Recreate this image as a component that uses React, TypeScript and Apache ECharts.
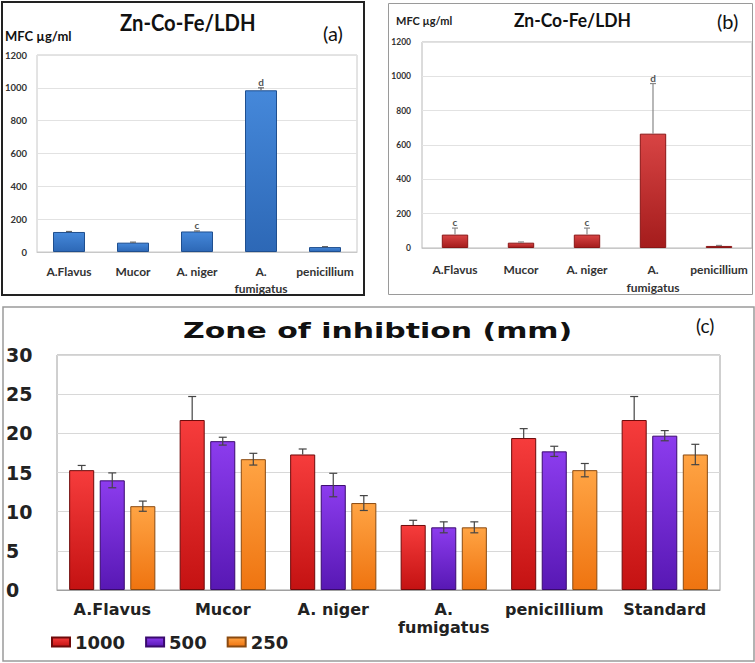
import React, { useEffect, useRef } from 'react';
import * as echarts from 'echarts';

// ---------- data ----------
const catsMFC = ['A.Flavus', 'Mucor', 'A. niger', 'A.\nfumigatus', 'penicillium'];
const mfcA = [122, 57, 125, 985, 30];
const errA = [3, 3, 3, 15, 3];
const sigA = ['', '', 'c', 'd', ''];
const mfcB = [78, 31, 78, 666, 12];
const errB = [38, 4, 38, 292, 3];
const sigB = ['c', '', 'c', 'd', ''];
const mfcTicks = { min: 0, max: 1200, interval: 200 };

const catsZone = ['A.Flavus', 'Mucor', 'A. niger', 'A.\nfumigatus', 'penicillium', 'Standard'];
const zoneNames = ['1000', '500', '250'];
const zone1000 = [15.3, 21.7, 17.3, 8.3, 19.4, 21.7];
const err1000 = [0.6, 3.0, 0.7, 0.6, 1.2, 3.0];
const zone500 = [14.0, 19.0, 13.4, 8.0, 17.7, 19.7];
const err500 = [0.95, 0.5, 1.5, 0.7, 0.65, 0.65];
const zone250 = [10.7, 16.7, 11.1, 8.0, 15.3, 17.3];
const err250 = [0.65, 0.75, 0.95, 0.7, 0.85, 1.3];
const zoneTicks = { min: 0, max: 30, interval: 5 };

// ---------- helpers ----------
const vgrad = (top: string, bottom: string) =>
  new echarts.graphic.LinearGradient(0, 0, 0, 1, [
    { offset: 0, color: top },
    { offset: 1, color: bottom },
  ]);

function barOffset(band: number, n: number, k: number, catGap: number, gap: number) {
  const usable = band * (1 - catGap);
  const bw = usable / (n + (n - 1) * gap);
  const step = bw * (1 + gap);
  return (k - (n - 1) / 2) * step;
}

function errSeries(
  axis: number,
  vals: number[],
  errs: number[],
  opts: { n: number; k: number; catGap: number; gap: number; both: boolean; sig?: string[]; color: string; cap: number; sigFont?: string }
) {
  return {
    type: 'custom',
    xAxisIndex: axis,
    yAxisIndex: axis,
    z: 5,
    silent: true,
    data: vals.map((v, i) => [i, v, errs[i]]),
    renderItem: (params: any, api: any) => {
      const i = api.value(0);
      const v = api.value(1);
      const e = api.value(2);
      const band = api.size([1, 0])[0];
      const off = barOffset(band, opts.n, opts.k, opts.catGap, opts.gap);
      const p0 = api.coord([i, v]);
      const pt = api.coord([i, v + e]);
      const pb = api.coord([i, v - e]);
      const x = p0[0] + off;
      const yTop = pt[1];
      const yBot = opts.both ? pb[1] : p0[1];
      const st = { stroke: opts.color, lineWidth: 1.2 };
      const children: any[] = [
        { type: 'line', shape: { x1: x, y1: yBot, x2: x, y2: yTop }, style: st },
        { type: 'line', shape: { x1: x - opts.cap, y1: yTop, x2: x + opts.cap, y2: yTop }, style: st },
      ];
      if (opts.both) {
        children.push({ type: 'line', shape: { x1: x - opts.cap, y1: yBot, x2: x + opts.cap, y2: yBot }, style: st });
      }
      if (opts.sig && opts.sig[i]) {
        children.push({
          type: 'text',
          style: {
            text: opts.sig[i],
            x,
            y: yTop - 1,
            textAlign: 'center',
            textVerticalAlign: 'bottom',
            fill: '#555',
            font: opts.sigFont || 'bold 10px Lato',
          },
        });
      }
      return { type: 'group', children };
    },
  };
}

const fontA = 'Lato';
const fontC = 'DejaVu Sans';
const plain = (v: number) => String(v);

export default function App() {
  const ref = useRef<HTMLDivElement>(null);
  useEffect(() => {
    const chart = echarts.init(ref.current!, null, { renderer: 'svg' });

    const colorsC = [
      { fill: vgrad('#f63c3c', '#c41212'), border: '#6e0a0a' },
      { fill: vgrad('#8c3cee', '#5818b4'), border: '#3a0a6e' },
      { fill: vgrad('#ffa444', '#ef7410'), border: '#8a4a10' },
    ];
    const zoneVals = [zone1000, zone500, zone250];
    const zoneErrs = [err1000, err500, err250];

    const option: any = {
      animation: false,
      backgroundColor: '#fff',
      grid: [
        { left: 37, top: 55, width: 320, height: 197, show: true, borderColor: '#c8c8c8', borderWidth: 1, backgroundColor: 'transparent' },
        { left: 422, top: 42, width: 330, height: 206, show: true, borderColor: '#b8b8b8', borderWidth: 1, backgroundColor: 'transparent' },
        { left: 57, top: 355, width: 663, height: 235, show: true, borderColor: '#a0a0a0', borderWidth: 1, backgroundColor: 'transparent' },
      ],
      xAxis: [
        {
          type: 'category', gridIndex: 0, data: catsMFC,
          axisLine: { lineStyle: { color: '#c8c8c8' } }, axisTick: { show: false },
          axisLabel: { margin: 11, fontFamily: fontA, fontWeight: 'bold', fontSize: 12, color: '#333', lineHeight: 17, interval: 0 },
        },
        {
          type: 'category', gridIndex: 1, data: catsMFC,
          axisLine: { lineStyle: { color: '#c8c8c8' } }, axisTick: { show: false },
          axisLabel: { margin: 12, fontFamily: fontA, fontWeight: 'bold', fontSize: 12, color: '#333', lineHeight: 18, interval: 0 },
        },
        {
          type: 'category', gridIndex: 2, data: catsZone,
          axisLine: { lineStyle: { color: '#a0a0a0' } }, axisTick: { show: false },
          axisLabel: { margin: 10, fontFamily: fontC, fontWeight: 'bold', fontSize: 16, color: '#222', lineHeight: 18, interval: 0 },
        },
      ],
      yAxis: [
        {
          type: 'value', gridIndex: 0, ...mfcTicks,
          axisLine: { show: false }, axisTick: { show: false },
          splitLine: { lineStyle: { color: '#e2e2e2' } },
          axisLabel: { margin: 10, formatter: plain, fontFamily: fontA, fontWeight: 'bold', fontSize: 9.5, color: '#333' },
        },
        {
          type: 'value', gridIndex: 1, ...mfcTicks,
          axisLine: { show: false }, axisTick: { show: false },
          splitLine: { lineStyle: { color: '#e2e2e2' } },
          axisLabel: { margin: 11, formatter: plain, fontFamily: fontA, fontWeight: 'bold', fontSize: 8.5, color: '#333' },
        },
        {
          type: 'value', gridIndex: 2, ...zoneTicks,
          axisLine: { show: false }, axisTick: { show: false },
          splitLine: { lineStyle: { color: '#d8d8d8' } },
          axisLabel: { margin: 51, align: 'left', formatter: plain, fontFamily: fontC, fontWeight: 'bold', fontSize: 19, color: '#222' },
        },
      ],
      legend: {
        data: zoneNames,
        left: 51,
        top: 633,
        padding: 0,
        icon: 'rect',
        itemWidth: 18,
        itemHeight: 9,
        itemGap: 20,
        textStyle: { fontFamily: fontC, fontWeight: 'bold', fontSize: 18, color: '#222' },
      },
      series: [
        {
          type: 'bar', name: 'MFC a', xAxisIndex: 0, yAxisIndex: 0, data: mfcA, barCategoryGap: '50%',
          itemStyle: { color: vgrad('#4588da', '#2d68b6'), borderColor: '#1f4f8f', borderWidth: 1 },
        },
        errSeries(0, mfcA, errA, { n: 1, k: 0, catGap: 0.5, gap: 0, both: false, sig: sigA, color: '#666', cap: 3 }),
        {
          type: 'bar', name: 'MFC b', xAxisIndex: 1, yAxisIndex: 1, data: mfcB, barCategoryGap: '60%',
          itemStyle: { color: vgrad('#d84444', '#a41c1c'), borderColor: '#8a1616', borderWidth: 1 },
        },
        errSeries(1, mfcB, errB, { n: 1, k: 0, catGap: 0.6, gap: 0, both: false, sig: sigB, color: '#888', cap: 3 }),
        ...zoneNames.map((nm, k) => ({
          type: 'bar', name: nm, xAxisIndex: 2, yAxisIndex: 2, data: zoneVals[k],
          barCategoryGap: '22%', barGap: '22%',
          itemStyle: { color: colorsC[k].fill, borderColor: colorsC[k].border, borderWidth: 1 },
        })),
        ...zoneNames.map((nm, k) =>
          errSeries(2, zoneVals[k], zoneErrs[k], { n: 3, k, catGap: 0.22, gap: 0.22, both: k !== 0, color: '#444', cap: 4 })
        ),
      ],
      graphic: [
        // panel frames
        { type: 'rect', shape: { x: 2, y: 2, width: 362, height: 293 }, style: { fill: 'none', stroke: '#222', lineWidth: 2 }, z: 10 },
        { type: 'rect', shape: { x: 388.5, y: 3.5, width: 364, height: 291 }, style: { fill: 'none', stroke: '#9a9a9a', lineWidth: 1 }, z: 10 },
        { type: 'rect', shape: { x: 3, y: 307, width: 751, height: 354 }, style: { fill: 'none', stroke: '#9a9a9a', lineWidth: 1.5 }, z: 10 },
        // panel (a) texts
        { type: 'text', x: 120, y: 23, scaleX: 0.92, style: { text: 'Zn-Co-Fe/LDH', font: `bold 22px ${fontA}`, fill: '#111', textAlign: 'left', textVerticalAlign: 'middle' } },
        { type: 'text', x: 5, y: 36, style: { text: 'MFC µg/ml', font: `bold 13px ${fontA}`, fill: '#111', textAlign: 'left', textVerticalAlign: 'middle' } },
        { type: 'text', x: 323, y: 33, style: { text: '(a)', font: `20px ${fontA}`, fill: '#111', textAlign: 'left', textVerticalAlign: 'middle' } },
        // panel (b) texts
        { type: 'text', x: 514, y: 20, scaleX: 0.92, style: { text: 'Zn-Co-Fe/LDH', font: `bold 19px ${fontA}`, fill: '#111', textAlign: 'left', textVerticalAlign: 'middle' } },
        { type: 'text', x: 396, y: 20, style: { text: 'MFC µg/ml', font: `bold 11px ${fontA}`, fill: '#222', textAlign: 'left', textVerticalAlign: 'middle' } },
        { type: 'text', x: 717, y: 21, style: { text: '(b)', font: `20px ${fontA}`, fill: '#111', textAlign: 'left', textVerticalAlign: 'middle' } },
        // panel (c) texts
        { type: 'text', x: 183, y: 330, scaleX: 1.36, style: { text: 'Zone of inhibtion (mm)', font: `bold 22px ${fontC}`, fill: '#111', textAlign: 'left', textVerticalAlign: 'middle' } },
        { type: 'text', x: 696, y: 325, style: { text: '(c)', font: `19px ${fontA}`, fill: '#111', textAlign: 'left', textVerticalAlign: 'middle' } },
      ],
    };

    chart.setOption(option);
    return () => chart.dispose();
  }, []);
  return (
    <div
      ref={ref}
      style={{ position: 'fixed', left: 0, top: 0, width: 755, height: 663, background: '#fff' }}
    />
  );
}
